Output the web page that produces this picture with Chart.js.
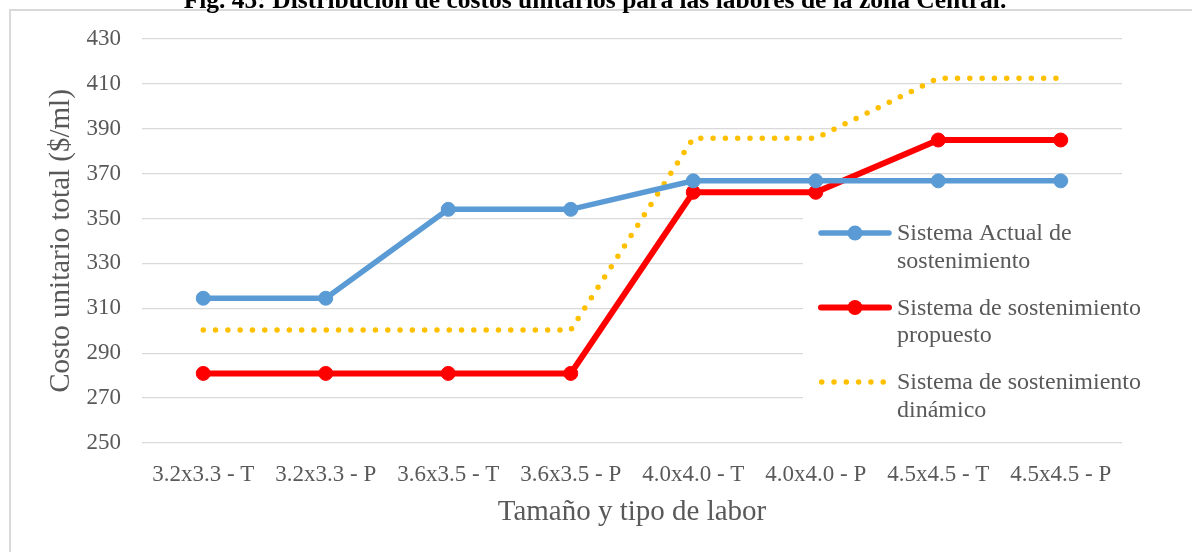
<!DOCTYPE html>
<html lang="es">
<head>
<meta charset="utf-8">
<title>Costos unitarios - zona Central</title>
<script src="https://cdn.jsdelivr.net/npm/chart.js@4"></script>
<style>
  html, body { margin: 0; padding: 0; background: #fff; }
  canvas { display: block; }
</style>
</head>
<body>
<canvas id="costChart" width="1192" height="552"></canvas>
<script>
// Tamaño y tipo de labor (eje X)
const labores = ['3.2x3.3 - T', '3.2x3.3 - P', '3.6x3.5 - T', '3.6x3.5 - P',
                 '4.0x4.0 - T', '4.0x4.0 - P', '4.5x4.5 - T', '4.5x4.5 - P'];

// Costo unitario total ($/ml) por sistema
const sistemaActual = [314.5, 314.5, 354.1, 354.1, 366.8, 366.8, 366.8, 366.8];
const sistemaPropuesto = [281.0, 281.0, 281.0, 281.0, 361.7, 361.7, 385.0, 385.0];
const sistemaDinamico = [300.3, 300.3, 300.3, 300.3, 385.8, 385.8, 412.5, 412.5];

// Marcas del eje Y
const yTicks = [250, 270, 290, 310, 330, 350, 370, 390, 410, 430];

const FONT = '"Liberation Serif", "Times New Roman", serif';
const GRIS = '#595959';

/**
 * Marco exterior y título de la figura
 */
const marcoFigura = {
    id: 'marcoFigura',
    beforeDraw(chart) {
        const ctx = chart.ctx;
        ctx.save();
        ctx.strokeStyle = '#d9d9d9';
        ctx.lineWidth = 2;
        ctx.strokeRect(10, 10, 1400, 800);
        ctx.fillStyle = '#000';
        ctx.font = 'bold 25.5px ' + FONT;
        ctx.textAlign = 'center';
        ctx.textBaseline = 'alphabetic';
        ctx.fillText('Fig. 45: Distribución de costos unitarios para las labores de la zona Central.', 595, 8);
        ctx.restore();
    }
};

/**
 * Leyenda con fondo blanco dentro del área del gráfico
 */
const leyenda = {
    id: 'leyenda',
    afterDatasetsDraw(chart) {
        const ctx = chart.ctx;
        ctx.save();
        ctx.fillStyle = '#fff';
        ctx.fillRect(803, 212, 330, 218);
        ctx.font = '24px ' + FONT;
        ctx.textBaseline = 'middle';
        chart.data.datasets.forEach((ds, i) => {
            const y = 233 + i * 74.5;
            ctx.strokeStyle = ds.borderColor;
            ctx.lineWidth = ds.borderWidth;
            ctx.lineCap = 'round';
            ctx.setLineDash(ds.borderDash || []);
            ctx.beginPath();
            if (ds.borderDash) {
                ctx.moveTo(821.7, y);
                ctx.lineTo(884, y);
            } else {
                ctx.moveTo(821, y);
                ctx.lineTo(889, y);
            }
            ctx.stroke();
            ctx.setLineDash([]);
            if (ds.pointRadius > 0) {
                ctx.fillStyle = ds.pointBackgroundColor;
                ctx.beginPath();
                ctx.arc(855, y, ds.pointRadius + 0.5, 0, Math.PI * 2);
                ctx.fill();
            }
            // texto en varias líneas
            const palabras = ds.label.split(' ');
            const lineas = [];
            let actual = '';
            palabras.forEach(p => {
                const prueba = actual ? actual + ' ' + p : p;
                if (ctx.measureText(prueba).width > 260 && actual) {
                    lineas.push(actual);
                    actual = p;
                } else {
                    actual = prueba;
                }
            });
            lineas.push(actual);
            ctx.fillStyle = GRIS;
            lineas.forEach((l, j) => ctx.fillText(l, 897, y + 1 + j * 27.5));
        });
        ctx.restore();
    }
};

const ctx = document.getElementById('costChart').getContext('2d');
new Chart(ctx, {
    type: 'line',
    data: {
        labels: labores,
        datasets: [{
            label: 'Sistema Actual de sostenimiento',
            data: sistemaActual,
            borderColor: '#5b9bd5',
            backgroundColor: '#5b9bd5',
            borderWidth: 5.5,
            pointRadius: 7,
            pointBackgroundColor: '#5b9bd5',
            pointBorderColor: '#5b9bd5',
            pointBorderWidth: 1,
            tension: 0
        }, {
            label: 'Sistema de sostenimiento propuesto',
            data: sistemaPropuesto,
            borderColor: '#ff0000',
            backgroundColor: '#ff0000',
            borderWidth: 6,
            pointRadius: 7,
            pointBackgroundColor: '#ff0000',
            pointBorderColor: '#ff0000',
            pointBorderWidth: 1,
            tension: 0
        }, {
            label: 'Sistema de sostenimiento dinámico',
            data: sistemaDinamico,
            borderColor: '#ffc000',
            backgroundColor: '#ffc000',
            borderWidth: 5.5,
            borderDash: [0, 12.3],
            borderCapStyle: 'round',
            borderJoinStyle: 'round',
            pointRadius: 0,
            tension: 0
        }]
    },
    options: {
        responsive: false,
        animation: false,
        layout: {
            padding: { left: 0, right: 70, top: 39, bottom: 0 }
        },
        plugins: {
            legend: { display: false },
            tooltip: { enabled: false },
            title: { display: false }
        },
        scales: {
            x: {
                offset: true,
                grid: { display: false },
                border: { display: false },
                ticks: {
                    color: GRIS,
                    padding: 10,
                    maxRotation: 0,
                    autoSkip: false,
                    font: { family: FONT, size: 23 }
                },
                title: {
                    display: true,
                    text: 'Tamaño y tipo de labor',
                    color: GRIS,
                    padding: { top: 0, bottom: 22.6 },
                    font: { family: FONT, size: 29 }
                },
                afterFit(scale) { scale.height = 109; }
            },
            y: {
                min: yTicks[0],
                max: yTicks[yTicks.length - 1],
                grid: { color: '#d9d9d9', lineWidth: 1.3, drawTicks: false },
                border: { display: false },
                ticks: {
                    stepSize: yTicks[1] - yTicks[0],
                    color: GRIS,
                    padding: 21,
                    font: { family: FONT, size: 23 }
                },
                title: {
                    display: true,
                    text: 'Costo unitario total ($/ml)',
                    color: GRIS,
                    padding: { top: 43.6, bottom: 0 },
                    font: { family: FONT, size: 29 }
                },
                afterFit(scale) { scale.width = 142; }
            }
        }
    },
    plugins: [marcoFigura, leyenda]
});
</script>
</body>
</html>
